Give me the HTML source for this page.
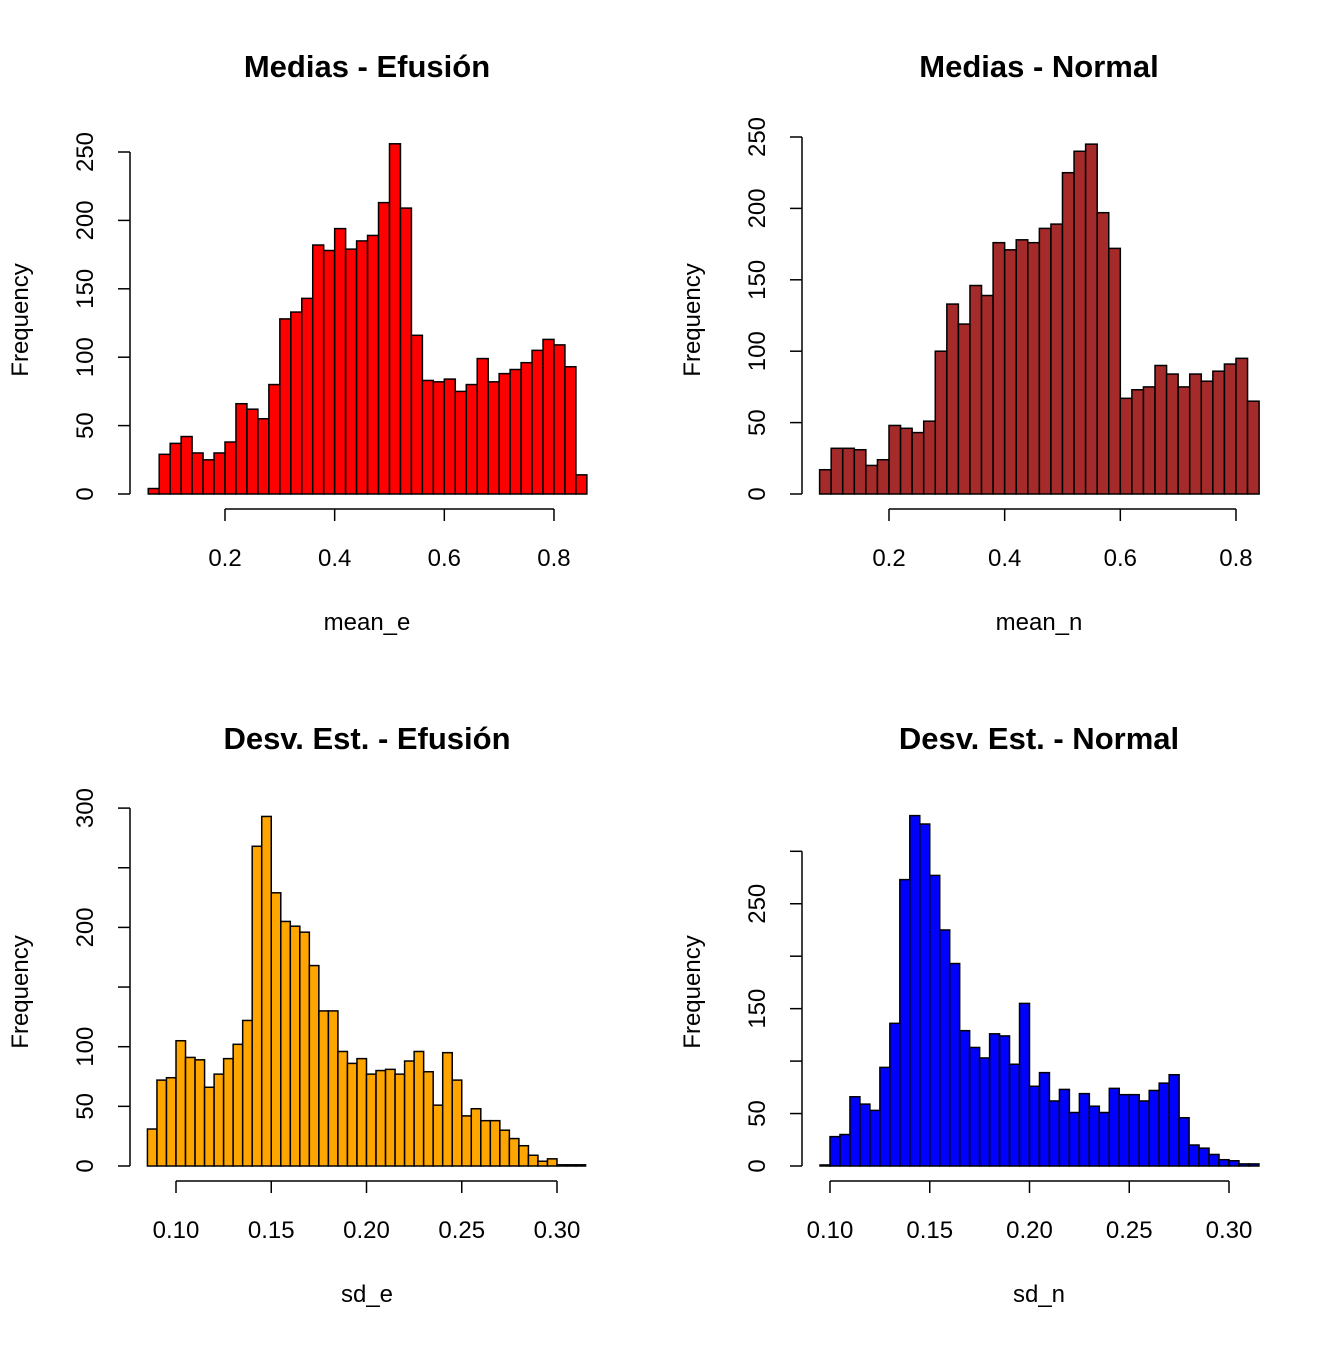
<!DOCTYPE html>
<html><head><meta charset="utf-8"><style>
body{margin:0;background:#fff;}
svg text{font-family:"Liberation Sans",Arial,sans-serif;fill:#000;}
</style></head><body>
<svg id="c" width="1344" height="1344" xmlns="http://www.w3.org/2000/svg"></svg>
<script>
const meanEBreakStart = 0.06, meanEBinWidth = 0.02;
const meanECounts = [4,29,37,42,30,25,30,38,66,62,55,80,128,133,143,182,178,194,179,185,189,213,256,209,116,83,82,84,75,80,99,82,88,91,96,105,113,109,93,14];
const meanNBreakStart = 0.08, meanNBinWidth = 0.02;
const meanNCounts = [17,32,32,31,20,24,48,46,43,51,100,133,119,146,139,176,171,178,176,186,189,225,240,245,197,172,67,73,75,90,84,75,84,79,86,91,95,65];
const sdEBreakStart = 0.085, sdEBinWidth = 0.005;
const sdECounts = [31,72,74,105,91,89,66,77,90,102,122,268,293,229,205,201,196,168,130,130,96,86,90,77,80,81,77,88,96,79,51,95,72,42,48,38,38,30,23,17,9,4,6,1,1,1];
const sdNBreakStart = 0.095, sdNBinWidth = 0.005;
const sdNCounts = [1,28,30,66,59,53,94,136,273,334,326,277,225,193,129,113,103,126,124,97,155,76,89,62,73,51,69,57,51,74,68,68,62,72,79,87,46,20,17,11,6,5,2,2];
const xTicks12 = [0.2,0.4,0.6,0.8];
const xLabels12 = ["0.2","0.4","0.6","0.8"];
const xTicks34 = [0.10,0.15,0.20,0.25,0.30];
const xLabels34 = ["0.10","0.15","0.20","0.25","0.30"];
const yTicks12 = [0,50,100,150,200,250];
const yLabels12 = ["0","50","100","150","200","250"];
const yTicks3 = [0,50,100,150,200,250,300];
const yLabels3 = ["0","50","100","","200","","300"];
const yTicks4 = [0,50,100,150,200,250,300];
const yLabels4 = ["0","50","","150","","250",""];

const NS="http://www.w3.org/2000/svg";
const svg=document.getElementById('c');
function mk(tag,attrs,parent){const e=document.createElementNS(NS,tag);for(const k in attrs)e.setAttribute(k,attrs[k]);(parent||svg).appendChild(e);return e;}

function panel(p){
  const g=mk('g',{});
  
  
  const sx=v=>p.x0px+(v-p.x0)*p.xs;
  const sy=v=>p.y0px-v*p.ys;
  p.counts.forEach((c,i)=>{
    const a=p.start+i*p.bw,b=a+p.bw;
    const r=mk('rect',{x:sx(a),y:sy(c),width:sx(b)-sx(a),height:sy(0)-sy(c),fill:p.color,stroke:'#000','stroke-width':1.5},g);
    
    
  });
  const ax=p.axisY;
  const xl=mk('line',{x1:sx(p.xt[0]),x2:sx(p.xt[p.xt.length-1]),y1:ax,y2:ax,stroke:'#000','stroke-width':1.5},g);
  
  
  p.xt.forEach((t,i)=>{
    mk('line',{x1:sx(t),x2:sx(t),y1:ax,y2:ax+12,stroke:'#000','stroke-width':1.5},g);
    if(p.xl[i]){const tx=mk('text',{x:sx(t),y:ax+57,'text-anchor':'middle','font-size':24},g);tx.textContent=p.xl[i];
      
      }
  });
  const yx=p.axisX;
  const yl=mk('line',{x1:yx,x2:yx,y1:sy(p.yt[0]),y2:sy(p.yt[p.yt.length-1]),stroke:'#000','stroke-width':1.5},g);
  
  
  p.yt.forEach((t,i)=>{
    mk('line',{x1:yx-12,x2:yx,y1:sy(t),y2:sy(t),stroke:'#000','stroke-width':1.5},g);
    if(p.yl[i]){const tx=mk('text',{x:0,y:0,'text-anchor':'middle','font-size':24,transform:`translate(${yx-37},${sy(t)}) rotate(-90)`},g);tx.textContent=p.yl[i];
      
      }
  });
  const ti=mk('text',{x:p.cx,y:p.titleY,'text-anchor':'middle','font-size':31,'font-weight':'bold'},g);ti.textContent=p.title;
  
  
  const xt=mk('text',{x:p.cx,y:p.titleY+553,'text-anchor':'middle','font-size':24},g);xt.textContent=p.xlab;
  
  
  const yt=mk('text',{x:0,y:0,'text-anchor':'middle','font-size':24,transform:`translate(${yx-102},${p.titleY+243}) rotate(-90)`},g);yt.textContent='Frequency';
  
  
}
panel({key:'mean-e',counts:meanECounts,start:meanEBreakStart,bw:meanEBinWidth,color:'#ff0000',x0:0.2,x0px:225,xs:548.3,y0px:494,ys:1.368,axisY:509,axisX:130,xt:xTicks12,xl:xLabels12,yt:yTicks12,yl:yLabels12,cx:367,titleY:77,title:'Medias - Efusión',xlab:'mean_e'});
panel({key:'mean-n',counts:meanNCounts,start:meanNBreakStart,bw:meanNBinWidth,color:'#a52a2a',x0:0.2,x0px:889,xs:578.3,y0px:494,ys:1.428,axisY:509,axisX:802,xt:xTicks12,xl:xLabels12,yt:yTicks12,yl:yLabels12,cx:1039,titleY:77,title:'Medias - Normal',xlab:'mean_n'});
panel({key:'sd-e',counts:sdECounts,start:sdEBreakStart,bw:sdEBinWidth,color:'#ffa500',x0:0.10,x0px:176,xs:1905,y0px:1166,ys:1.193,axisY:1181,axisX:130,xt:xTicks34,xl:xLabels34,yt:yTicks3,yl:yLabels3,cx:367,titleY:749,title:'Desv. Est. - Efusión',xlab:'sd_e'});
panel({key:'sd-n',counts:sdNCounts,start:sdNBreakStart,bw:sdNBinWidth,color:'#0000ff',x0:0.10,x0px:830,xs:1995,y0px:1166,ys:1.049,axisY:1181,axisX:802,xt:xTicks34,xl:xLabels34,yt:yTicks4,yl:yLabels4,cx:1039,titleY:749,title:'Desv. Est. - Normal',xlab:'sd_n'});
</script>
</body></html>
